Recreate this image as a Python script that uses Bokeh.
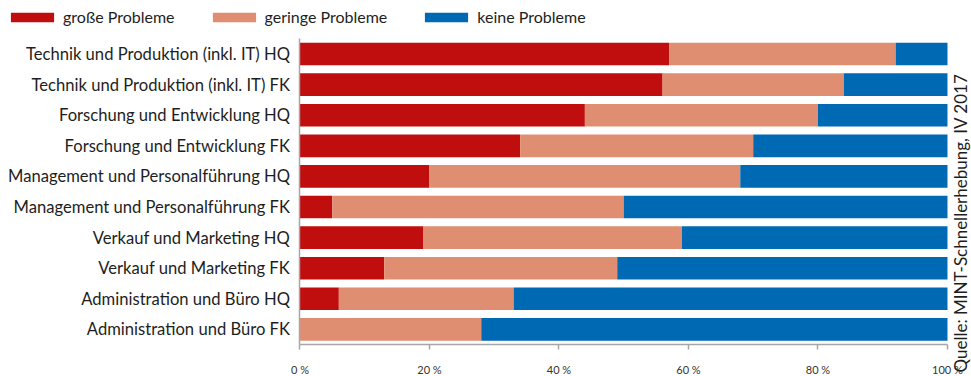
from bokeh.plotting import figure
from bokeh.models import (ColumnDataSource, Range1d, FixedTicker,
                          PrintfTickFormatter, Legend, LegendItem, Label)
from bokeh.embed import file_html
from bokeh.resources import INLINE

# Share of companies per occupational field and qualification level
categories = [
    "Technik und Produktion (inkl. IT) HQ",
    "Technik und Produktion (inkl. IT) FK",
    "Forschung und Entwicklung HQ",
    "Forschung und Entwicklung FK",
    "Management und Personalführung HQ",
    "Management und Personalführung FK",
    "Verkauf und Marketing HQ",
    "Verkauf und Marketing FK",
    "Administration und Büro HQ",
    "Administration und Büro FK",
]
grosse = [57, 56, 44, 34, 20, 5, 19, 13, 6, 0]
geringe = [35, 28, 36, 36, 48, 45, 40, 36, 27, 28]
keine = [8, 16, 20, 30, 32, 50, 41, 51, 67, 72]

series = ["grosse", "geringe", "keine"]
series_labels = ["große Probleme", "geringe Probleme", "keine Probleme"]
colors = ["#C00E0E", "#E08E71", "#0069B4"]
x_ticks = [0, 20, 40, 60, 80, 100]
source_note = "Quelle: MINT-Schnellerhebung, IV 2017"

FONT = "Lato"
TEXT = "#1e1e1e"
AXIS = "#a6a6a6"

W, H = 971, 376

# row index of each category, first one on top
pos = list(range(len(categories)))
src = ColumnDataSource(dict(pos=pos, grosse=grosse, geringe=geringe, keine=keine))

# The plotting frame fills the whole canvas; the axes are pinned inside it so
# that the legend above and the rotated note on the right are not clipped.
p = figure(
    width=W, height=H,
    x_range=Range1d(-46.25, 103.71),
    y_range=Range1d(10.54, -1.75),          # inverted: first category on top
    output_backend="svg", toolbar_location=None,
    min_border=0,
)

renderers = p.hbar_stack(series, y="pos", height=0.74, color=colors,
                         source=src, line_width=0)

p.outline_line_color = None
p.grid.grid_line_color = None
p.background_fill_color = "white"
p.border_fill_color = "white"

# x axis: percent ticks along the bottom of the bar block
xa = p.xaxis[0]
xa.fixed_location = len(categories) - 0.5
xa.bounds = (0, 100)
xa.ticker = FixedTicker(ticks=x_ticks)
xa.formatter = PrintfTickFormatter(format="%d %%")
xa.axis_line_color = AXIS
xa.axis_line_width = 1.5
xa.major_tick_line_color = AXIS
xa.major_tick_line_width = 1.5
xa.major_tick_out = 5
xa.major_tick_in = 0
xa.minor_tick_line_color = None
xa.major_label_standoff = 13
xa.major_label_text_font = FONT
xa.major_label_text_font_size = "11px"
xa.major_label_text_color = "#333333"

# y axis: category names at 0 %
ya = p.yaxis[0]
ya.fixed_location = 0
ya.bounds = (-0.5, len(categories) - 0.5)
ya.ticker = FixedTicker(ticks=pos)
ya.major_label_overrides = {i: name for i, name in zip(pos, categories)}
ya.axis_line_color = AXIS
ya.axis_line_width = 1.5
ya.major_tick_line_color = None
ya.minor_tick_line_color = None
ya.major_tick_in = 0
ya.major_tick_out = 0
ya.major_label_standoff = 10
ya.major_label_text_font = FONT
ya.major_label_text_font_size = "16.6px"
ya.major_label_text_color = TEXT

# legend across the top of the canvas (swatches are drawn inset by 10 %)
legend = Legend(
    items=[LegendItem(label=lab, renderers=[r]) for lab, r in zip(series_labels, renderers)],
    orientation="horizontal",
    location=(5, 350),
    glyph_width=54, glyph_height=12,
    label_standoff=4, spacing=32,
    padding=0, margin=0,
    border_line_color=None, background_fill_alpha=0,
    label_text_font=FONT, label_text_font_size="16px",
    label_text_color=TEXT,
)
p.add_layout(legend, "center")

# source note, rotated, just right of the 100 % edge
note = Label(
    x=960, y=4, x_units="screen", y_units="screen",
    text=source_note, angle=90, angle_units="deg",
    text_font=FONT, text_font_size="17px", text_color=TEXT,
    text_baseline="middle", text_align="left",
)
p.add_layout(note)

open("out.html", "w").write(file_html(p, INLINE))
